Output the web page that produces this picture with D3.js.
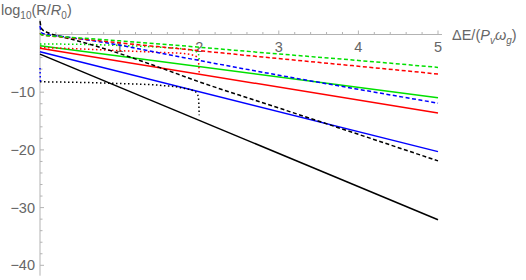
<!DOCTYPE html>
<html>
<head>
<script src="https://cdn.jsdelivr.net/npm/d3@7"></script>
<style>
  body { margin: 0; background: #fff; }
  text { font-family: "Liberation Sans", Arial, sans-serif; fill: #666; }
</style>
</head>
<body>
<svg id="chart" width="526" height="280"></svg>
<script>
// values: [x, log10(R/R0)]
const solidBlack = [[0, -3.4], [5, -32.1]];
const solidBlue  = [[0, -3.0], [5, -20.3]];
const solidRed   = [[0, -2.4], [5, -13.6]];
const solidGreen = [[0, -1.95], [5, -10.95]];

const dashGreen = [[0, 0.2], [0.02, -0.05], [0.2, -0.3], [0.5, -0.6], [1, -1.1], [2, -2.2], [2.76, -3.1], [4, -4.5], [5, -5.7]];
const dashRed   = [[0, 0.2], [0.02, -0.05], [0.2, -0.35], [0.5, -0.75], [1, -1.45], [2, -2.8], [2.76, -3.85], [4, -5.5], [5, -6.85]];
const dashBlue  = [[0, 1.5], [0.02, 0.3], [0.1, -0.05], [0.25, -0.3], [0.5, -0.75], [0.75, -1.25], [1, -1.85], [1.5, -3.2], [2, -4.5], [2.76, -6.45], [4, -9.5], [5, -11.9]];
const dashBlack = [[0, 2.3], [0.02, 1.0], [0.1, 0.3], [0.25, -0.3], [0.5, -1.2], [0.75, -2.2], [1, -3.3], [1.5, -5.7], [2, -8.2], [2.76, -11.65], [4, -17.3], [5, -21.9]];

const dotGreen = [[0, -1.65], [0.5, -1.7], [1, -1.9], [1.5, -2.2], [1.8, -2.5], [1.95, -2.9], [1.99, -3.4], [2, -4.3]];
const dotRed   = [[0, -2.25], [0.5, -2.5], [1, -2.8], [1.5, -3.1], [1.8, -3.3], [1.95, -3.7], [1.99, -4.5], [2, -6.6]];
const dotBlue  = [[0, -5.8], [0.005, -8.2]];
const dotBlack = [[0, -8.2], [0.5, -8.3], [1, -8.5], [1.5, -8.8], [1.8, -9.3], [1.95, -9.9], [1.99, -10.8], [2, -14.0]];

const xTicks = [1, 2, 3, 4, 5];
const yTicks = [-10, -20, -30, -40];

const svg = d3.select("#chart");

const x = d3.scaleLinear().domain([0, 5]).range([40, 438]);
const y = d3.scaleLinear().domain([0, -40]).range([34.5, 265.3]);

const axisColor = "#b3b3b3";

// y axis
svg.append("line").attr("x1", x(0)).attr("x2", x(0))
  .attr("y1", y(2.6)).attr("y2", y(-41.8))
  .attr("stroke", axisColor).attr("stroke-width", 1);
// x axis
svg.append("line").attr("x1", x(0)).attr("x2", x(5.05))
  .attr("y1", y(0)).attr("y2", y(0))
  .attr("stroke", axisColor).attr("stroke-width", 1);

// x ticks (point up)
d3.range(1, 26).forEach(i => {
  let v = i * 0.2;
  let major = i % 5 == 0;
  svg.append("line").attr("x1", x(v)).attr("x2", x(v))
    .attr("y1", y(0)).attr("y2", y(0) - (major ? 4 : 2.5))
    .attr("stroke", axisColor);
});
// y ticks (point right)
d3.range(-1, -21, -1).forEach(i => {
  let v = i * 2;
  let major = v % 10 == 0;
  svg.append("line").attr("x1", x(0)).attr("x2", x(0) + (major ? 4 : 2.5))
    .attr("y1", y(v)).attr("y2", y(v))
    .attr("stroke", axisColor);
});

svg.selectAll(".xl").data(xTicks).enter().append("text")
  .attr("x", d => x(d)).attr("y", y(0) + 17)
  .attr("text-anchor", "middle").attr("font-size", 14.5)
  .text(d => d);

svg.selectAll(".yl").data(yTicks).enter().append("text")
  .attr("x", x(0) - 5).attr("y", d => y(d) + 5)
  .attr("text-anchor", "end").attr("font-size", 14.5)
  .text(d => "\u2212" + Math.abs(d));

// axis labels
let yl = svg.append("text").attr("x", 1).attr("y", 15).attr("font-size", 14.5);
yl.append("tspan").text("log");
yl.append("tspan").attr("font-size", 10).attr("dy", 4).text("10");
yl.append("tspan").attr("dy", -4).text("(R/");
yl.append("tspan").attr("font-style", "italic").text("R");
yl.append("tspan").attr("font-size", 10).attr("dy", 4).text("0");
yl.append("tspan").attr("dy", -4).text(")");

let xl = svg.append("text").attr("x", 452).attr("y", 40).attr("font-size", 14.5);
xl.append("tspan").text("\u0394E/(");
xl.append("tspan").attr("font-style", "italic").text("P");
xl.append("tspan").attr("font-size", 10).attr("font-style", "italic").attr("dy", 4).text("v");
xl.append("tspan").attr("font-style", "italic").attr("dy", -4).text("\u03C9");
xl.append("tspan").attr("font-size", 10).attr("font-style", "italic").attr("dy", 4).text("g");
xl.append("tspan").attr("dy", -4).text(")");

const line = d3.line().x(d => x(d[0])).y(d => y(d[1])).curve(d3.curveMonotoneX);

const series = [
  [solidBlack, "#000", null],
  [solidBlue, "#0000ff", null],
  [solidRed, "#ff0000", null],
  [solidGreen, "#00e000", null],
  [dotBlack, "#000", "1.5,2.5"],
  [dotBlue, "#0000ff", "1.5,2.5"],
  [dotRed, "#ff0000", "1.5,2.5"],
  [dotGreen, "#00e000", "1.5,2.5"],
  [dashBlack, "#000", "4,2.5"],
  [dashBlue, "#0000ff", "4,2.5"],
  [dashRed, "#ff0000", "4,2.5"],
  [dashGreen, "#00e000", "4,2.5"]
];

series.forEach(s => {
  svg.append("path").datum(s[0])
    .attr("d", line)
    .attr("fill", "none")
    .attr("stroke", s[1])
    .attr("stroke-width", 1.5)
    .attr("stroke-dasharray", s[2]);
});
</script>
</body>
</html>
